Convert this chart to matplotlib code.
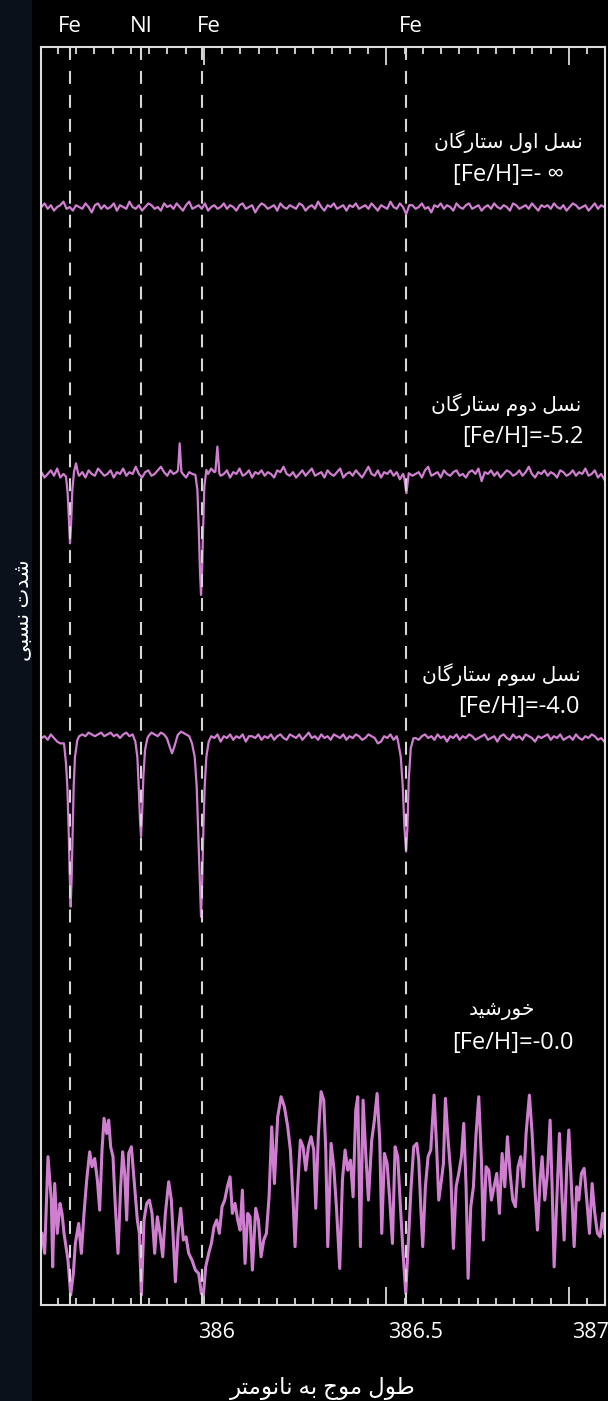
import numpy as np
import matplotlib
matplotlib.use('Agg')
import matplotlib.pyplot as plt
from matplotlib.transforms import blended_transform_factory
from matplotlib.ticker import MultipleLocator

plt.rcParams['font.family'] = ['Open Sans', 'DejaVu Sans']

# ---------------- data ----------------
line_wl = [385.634, 385.828, 385.994, 386.555]
line_names = ['Fe', 'NI', 'Fe', 'Fe']
line_label_dx_px = [0, 0, 7, 4]

major_ticks = [386.0, 386.5, 387.0]
major_labels = ['386', '386.5', '387']
tick_label_dx_px = [13, 29, 22]

# regular sampling grid for the weak/noisy spectra
grid_wl = np.linspace(385.555, 387.097, 180)

# noise on the continuum, in hundredths of the continuum level
first_noise = [0, 2, -1, 1, -2, 0, 1, 3, -1, 0, -2, 1, 0, -1, 2, 0, -3, 1, 2, -1,
               1, -1, 0, 2, -2, 1, 0, -1, 3, 0, -1, 1, -2, 0, 2, 1, -1, 0, -2, 2,
               0, 1, -1, 2, 0, -2, 1, 3, -1, 0, 1, -1, 2, -2, 0, 1, -1, 0, 2, -1,
               1, 0, -2, 1, 2, -1, 0, 1, -3, 0, 2, 1, -1, 0, 1, -2, 2, 0, -1, 1,
               0, -1, 2, 1, -2, 0, 1, -1, 3, 0, -2, 1, 0, 2, -1, 0, 1, -2, 1, 0,
               2, -1, 0, 1, -1, 2, 0, -2, 1, 0, -1, 3, 0, -1, 2, 0, -4, 1, 1, -1,
               0, 2, -1, 0, -3, 1, 0, 2, -1, 1, 0, -2, 2, 0, -1, 1, 2, -1, 0, 1,
               -2, 0, 1, -1, 2, 0, -1, 1, 0, -2, 2, 1, -1, 0, 1, -1, 2, 0, -2, 1,
               0, 1, -1, 2, 0, -1, 1, -2, 0, 2, 1, -1, 0, 1, -2, 0, 2, -1, 1, 0]

second_noise = [1, -2, 0, 2, -1, 3, -2, 0, 1, -3, 2, 0, -1, 1, -2, 2, 0, -1, 3, 1,
                -1, 0, 2, -2, 1, 0, 3, -1, 1, 0, 4, 0, -2, 1, 2, -1, 0, 2, 4, 1,
                -1, 2, 0, 1, 3, 0, -2, 1, 0, 2, -1, 1, -2, 0, 3, 1, 2, -1, 0, 2,
                -2, 1, 0, 3, -1, 0, 2, -2, 1, 0, 2, -1, 1, 0, -2, 2, 1, 4, 0, -1,
                1, -2, 0, 2, -1, 1, 3, -1, 0, 1, -2, 2, 0, -1, 1, 3, -2, 0, 1, -1,
                2, 0, -2, 1, 4, 0, -1, 2, -2, 1, 0, 2, -1, 1, -3, 0, 1, 2, -1, 0,
                1, -2, 2, 4, -1, 0, 1, -2, 2, 0, -1, 1, 2, -1, 0, -2, 1, 2, 0, 3,
                -4, 1, 0, 2, -1, 1, -2, 0, 2, 1, -1, 0, 2, -1, 1, 4, 0, -2, 1, 0,
                2, -1, 1, 0, -2, 2, 1, -1, 0, 2, -1, 1, 0, 3, -1, 0, 2, -2, 0, -3]

third_noise = [0, 1, -1, 2, 0, -2, -3, 0, 1, 0, 1, 0, 1, 2, 1, 3, 2, 1, 2, 3,
               1, 2, 3, 1, 2, 0, 2, 3, 1, 2, 0, 1, 0, 2, 1, 3, 2, 1, 3, 2,
               1, -1, 0, 2, 1, 3, 2, 1, 0, 1, 0, 1, 2, -1, 1, 0, 2, -2, 1, 0,
               2, -1, 1, 0, 2, -2, 1, 1, 0, 2, -1, 1, 0, 2, -1, 1, 2, 0, -1, 2,
               1, 0, 2, -1, 1, 3, 0, 1, -1, 2, 0, 1, -1, 2, 1, 0, 2, -1, 1, 0,
               2, 1, -1, 0, 2, 1, 0, -3, -2, 1, 0, 2, -1, 1, 0, 1, 0, 1, 2, 0,
               -1, 1, 2, 0, 1, -1, 2, 0, 1, -2, 1, 0, 2, -1, 1, 0, 2, 1, -1, 0,
               1, 2, -1, 0, 1, -2, 1, 2, 0, -1, 2, 0, 1, -1, 2, 1, 0, -2, 1, 0,
               1, 2, -1, 1, 0, 2, -1, 0, 1, -1, 2, 0, -1, 1, 0, 2, 1, -1, 0, -2]

# absorption lines / spikes (wavelength nm, relative flux)
second_fe1_wl = [385.6223, 385.6269, 385.6306, 385.6333, 385.6360, 385.6397, 385.6443, 385.6497, 385.6552]
second_fe1_f = [0.985, 0.893, 0.726, 0.615, 0.708, 0.911, 1.013, 1.059, 1.004]
second_spike1_wl = [385.9293, 385.9338, 385.9384]
second_spike1_f = [1.022, 1.170, 1.013]
second_fe2_wl = [385.9768, 385.9823, 385.9859, 385.9896, 385.9923, 385.9950, 385.9978, 386.0014, 386.0069]
second_fe2_f = [0.995, 0.911, 0.708, 0.448, 0.328, 0.448, 0.689, 0.930, 1.022]
second_spike2_wl = [386.0316, 386.0371, 386.0425]
second_spike2_f = [1.013, 1.152, 1.004]
second_fe3_wl = [386.5486, 386.5550, 386.5614]
second_fe3_f = [0.985, 0.893, 1.004]

third_fe1_wl = [385.6169, 385.6223, 385.6260, 385.6296, 385.6324, 385.6351, 385.6379, 385.6406, 385.6433, 385.6470, 385.6534]
third_fe1_f = [0.970, 0.859, 0.730, 0.489, 0.248, 0.063, 0.230, 0.489, 0.730, 0.896, 0.989]
third_ni_wl = [385.8123, 385.8178, 385.8215, 385.8251, 385.8279, 385.8306, 385.8343, 385.8388, 385.8452]
third_ni_f = [0.980, 0.896, 0.730, 0.544, 0.452, 0.563, 0.785, 0.933, 0.998]
third_weak_wl = [385.8990, 385.9064, 385.9128, 385.9192, 385.9284, 385.9375]
third_weak_f = [0.998, 0.952, 0.915, 0.952, 1.017, 1.035]
third_fe2_wl = [385.9676, 385.9749, 385.9804, 385.9850, 385.9887, 385.9923, 385.9950, 385.9987, 386.0023, 386.0069, 386.0133]
third_fe2_f = [0.970, 0.896, 0.730, 0.452, 0.211, 0.007, 0.174, 0.489, 0.730, 0.896, 0.980]
third_fe3_wl = [386.5322, 386.5395, 386.5450, 386.5495, 386.5541, 386.5578, 386.5614, 386.5669, 386.5742]
third_fe3_f = [0.980, 0.896, 0.730, 0.507, 0.369, 0.507, 0.767, 0.943, 0.998]

sun_wl = [385.5566, 385.5639, 385.5730, 385.5821, 385.5858, 385.5913, 385.5986, 385.6059, 385.6114, 385.6169,
          385.6278, 385.6351, 385.6424, 385.6479, 385.6570, 385.6644, 385.6717, 385.6790, 385.6872, 385.6936,
          385.7009, 385.7082, 385.7146, 385.7210, 385.7265, 385.7338, 385.7393, 385.7447, 385.7511, 385.7575,
          385.7648, 385.7721, 385.7776, 385.7831, 385.7886, 385.7941, 385.8014, 385.8105, 385.8178, 385.8233,
          385.8288, 385.8361, 385.8434, 385.8507, 385.8580, 385.8653, 385.8726, 385.8799, 385.8873, 385.8946,
          385.9037, 385.9110, 385.9165, 385.9220, 385.9293, 385.9366, 385.9439, 385.9512, 385.9585, 385.9676,
          385.9768, 385.9859, 385.9932, 385.9987, 386.0051, 386.0133, 386.0206, 386.0279, 386.0352, 386.0425,
          386.0498, 386.0572, 386.0645,
          386.0718, 386.0782, 386.0855, 386.0928, 386.0992, 386.1056, 386.1129, 386.1202, 386.1266, 386.1330,
          386.1421, 386.1495, 386.1568, 386.1641, 386.1714, 386.1787, 386.1860, 386.1933, 386.2024, 386.2116,
          386.2207, 386.2298, 386.2371, 386.2445, 386.2499, 386.2572, 386.2645, 386.2719, 386.2792, 386.2865,
          386.2938, 386.3011, 386.3066, 386.3139, 386.3212, 386.3285, 386.3340, 386.3395, 386.3486, 386.3559,
          386.3632, 386.3723, 386.3797, 386.3870, 386.3943, 386.4016, 386.4089, 386.4162, 386.4217, 386.4290,
          386.4363, 386.4436, 386.4509, 386.4600, 386.4673, 386.4747, 386.4820, 386.4874, 386.4948, 386.5021,
          386.5094, 386.5167, 386.5240, 386.5313, 386.5386, 386.5459, 386.5532, 386.5605, 386.5678, 386.5751,
          386.5834,
          386.5888, 386.5943, 386.5997, 386.6070, 386.6143, 386.6217, 386.6308, 386.6381, 386.6436, 386.6509,
          386.6564, 386.6619, 386.6692, 386.6765, 386.6838, 386.6911, 386.6984, 386.7057, 386.7121, 386.7185,
          386.7240, 386.7313, 386.7386, 386.7459, 386.7532, 386.7605, 386.7660, 386.7733, 386.7806, 386.7879,
          386.7952, 386.8025, 386.8098, 386.8172, 386.8245, 386.8318, 386.8391, 386.8464, 386.8537, 386.8610,
          386.8683, 386.8756, 386.8829, 386.8920, 386.8994, 386.9067, 386.9140, 386.9213, 386.9268, 386.9341,
          386.9414, 386.9487, 386.9542, 386.9597, 386.9670, 386.9743, 386.9816, 386.9871, 386.9944, 386.9999,
          387.0072, 387.0145, 387.0218, 387.0273, 387.0346, 387.0419, 387.0492, 387.0565, 387.0638, 387.0711,
          387.0784, 387.0857, 387.0930, 387.0985]
sun_f = [0.398, 0.287, 0.824, 0.583, 0.212, 0.675, 0.398, 0.564, 0.509, 0.398,
         0.249, 0.055, 0.175, 0.342, 0.453, 0.287, 0.509, 0.694, 0.851, 0.768,
         0.814, 0.694, 0.527, 0.861, 1.037, 0.953, 1.027, 0.879, 0.824, 0.546,
         0.287, 0.657, 0.851, 0.731, 0.472, 0.842, 0.879, 0.657, 0.472, 0.398,
         0.055, 0.472, 0.564, 0.583, 0.509, 0.287, 0.490, 0.398, 0.268, 0.509,
         0.685, 0.583, 0.361, 0.129, 0.398, 0.537, 0.361, 0.379, 0.287, 0.249,
         0.194, 0.175, 0.064, 0.055, 0.212, 0.287, 0.342, 0.435, 0.472, 0.398,
         0.546, 0.583, 0.657,
         0.712, 0.509, 0.564, 0.472, 0.416, 0.638, 0.231, 0.509, 0.490, 0.194,
         0.537, 0.472, 0.268, 0.361, 0.398, 0.601, 0.990, 0.675, 1.046, 1.157,
         1.101, 0.990, 0.861, 0.583, 0.324, 0.657, 0.916, 0.879, 0.749, 0.879,
         0.935, 0.861, 0.537, 0.953, 1.185, 1.138, 0.861, 0.324, 0.898, 0.768,
         0.546, 0.203, 0.694, 0.861, 0.749, 0.805, 0.601, 1.083, 1.157, 0.324,
         1.138, 0.842, 0.583, 0.916, 1.027, 1.175, 0.916, 0.398, 0.842, 0.787,
         0.583, 0.342, 0.879, 0.824, 0.546, 0.287, 0.064, 0.361, 0.657, 0.879,
         0.898,
         0.805, 0.546, 0.324, 0.657, 0.824, 0.861, 1.166, 0.861, 0.583, 0.694,
         0.787, 1.148, 0.916, 0.731, 0.314, 0.657, 0.731, 0.824, 1.009, 0.657,
         0.148, 0.546, 0.657, 0.953, 1.157, 0.805, 0.361, 0.768, 0.749, 0.583,
         0.657, 0.731, 0.509, 0.842, 0.657, 0.935, 0.731, 0.583, 0.546, 0.768,
         0.824, 0.657, 0.953, 1.166, 0.953, 0.657, 0.416, 0.694, 0.824, 0.583,
         0.731, 1.027, 0.657, 0.212, 0.583, 0.953, 0.583, 0.361, 0.768, 0.972,
         0.657, 0.324, 0.657, 0.583, 0.731, 0.759, 0.583, 0.398, 0.675, 0.509,
         0.398, 0.379, 0.509, 0.398]

# vertical offsets of the stacked spectra
offsets = {'first': 5.10, 'second': 3.617, 'third': 2.15, 'sun': 0.0}

# labels
label_titles = ['نسل اول ستارگان', 'نسل دوم ستارگان', 'نسل سوم ستارگان', 'خورشید']
label_feh = ['[Fe/H]=- ∞', '[Fe/H]=-5.2', '[Fe/H]=-4.0', '[Fe/H]=-0.0']
xlabel_text = 'طول موج به نانومتر'
ylabel_text = 'شدت نسبی'

# ---------------- minimal Persian shaping ----------------
FORMS = {  # isolated, final, initial, medial
    'ا': ('\uFE8D', '\uFE8E', None, None),
    'ب': ('\uFE8F', '\uFE90', '\uFE91', '\uFE92'),
    'ت': ('\uFE95', '\uFE96', '\uFE97', '\uFE98'),
    'ج': ('\uFE9D', '\uFE9E', '\uFE9F', '\uFEA0'),
    'خ': ('\uFEA5', '\uFEA6', '\uFEA7', '\uFEA8'),
    'د': ('\uFEA9', '\uFEAA', None, None),
    'ر': ('\uFEAD', '\uFEAE', None, None),
    'س': ('\uFEB1', '\uFEB2', '\uFEB3', '\uFEB4'),
    'ش': ('\uFEB5', '\uFEB6', '\uFEB7', '\uFEB8'),
    'ط': ('\uFEC1', '\uFEC2', '\uFEC3', '\uFEC4'),
    'ل': ('\uFEDD', '\uFEDE', '\uFEDF', '\uFEE0'),
    'م': ('\uFEE1', '\uFEE2', '\uFEE3', '\uFEE4'),
    'ن': ('\uFEE5', '\uFEE6', '\uFEE7', '\uFEE8'),
    'ه': ('\uFEE9', '\uFEEA', '\uFEEB', '\uFEEC'),
    'و': ('\uFEED', '\uFEEE', None, None),
    'ی': ('\uFBFC', '\uFBFD', '\uFBFE', '\uFBFF'),
    'گ': ('\uFB92', '\uFB93', '\uFB94', '\uFB95'),
}


def shape(text):
    out = []
    n = len(text)
    for i, ch in enumerate(text):
        if ch not in FORMS:
            out.append(ch)
            continue
        prev = text[i - 1] if i > 0 else None
        nxt = text[i + 1] if i < n - 1 else None
        join_prev = prev in FORMS and FORMS[prev][2] is not None
        join_next = nxt in FORMS and FORMS[ch][2] is not None
        iso, fin, ini, med = FORMS[ch]
        if join_prev and join_next:
            out.append(med)
        elif join_prev:
            out.append(fin)
        elif join_next:
            out.append(ini)
        else:
            out.append(iso)
    return ''.join(reversed(out))


def assemble(noise, features):
    wl = np.asarray(grid_wl, dtype=float)
    fl = 1.0 + np.asarray(noise, dtype=float) / 100.0
    keep = np.ones(len(wl), dtype=bool)
    xs, ys = [], []
    for fw, ff in features:
        keep &= ~((wl >= min(fw) - 0.002) & (wl <= max(fw) + 0.002))
        xs.extend(fw)
        ys.extend(ff)
    allx = np.concatenate([wl[keep], np.asarray(xs)])
    ally = np.concatenate([fl[keep], np.asarray(ys)])
    order = np.argsort(allx)
    return allx[order], ally[order]


first_x, first_y = assemble(first_noise, [])
second_x, second_y = assemble(second_noise, [(second_fe1_wl, second_fe1_f),
                                             (second_spike1_wl, second_spike1_f),
                                             (second_fe2_wl, second_fe2_f),
                                             (second_spike2_wl, second_spike2_f),
                                             (second_fe3_wl, second_fe3_f)])
third_x, third_y = assemble(third_noise, [(third_fe1_wl, third_fe1_f),
                                          (third_ni_wl, third_ni_f),
                                          (third_weak_wl, third_weak_f),
                                          (third_fe2_wl, third_fe2_f),
                                          (third_fe3_wl, third_fe3_f)])

# ---------------- figure ----------------
W, H = 608, 1401
fig = plt.figure(figsize=(W / 100, H / 100), dpi=100, facecolor='black')
fig.patches.append(plt.Rectangle((0, 0), 32 / W, 1, transform=fig.transFigure,
                                 facecolor='#0b111b', edgecolor='none', zorder=-10))

ax = fig.add_axes([40.7 / W, 96 / H, 563.9 / W, 1258 / H])
ax.set_facecolor('black')
ax.set_xlim(385.553, 387.098)
ax.set_ylim(0, 6.989)

spec_color = '#d07fd0'
ax.plot(first_x, first_y + offsets['first'], color=spec_color, lw=1.6, zorder=2)
ax.plot(second_x, second_y + offsets['second'], color=spec_color, lw=1.6, zorder=2)
ax.plot(third_x, third_y + offsets['third'], color=spec_color, lw=1.6, zorder=2)
ax.plot(sun_wl, np.asarray(sun_f) + offsets['sun'], color=spec_color, lw=2.2, zorder=2)

trans = blended_transform_factory(ax.transData, ax.transAxes)
for w, name, dx in zip(line_wl, line_names, line_label_dx_px):
    ax.plot([w, w], [1, 0], transform=trans, color='#d6d6d6', lw=1.5,
            linestyle=(0, (6.2, 5.3)), zorder=3)
    ax.annotate(name, xy=(w, 1), xycoords=trans, xytext=(dx * 0.72, 21 * 0.72),
                textcoords='offset points', ha='center', va='center',
                color='white', fontsize=16, annotation_clip=False)

# axes styling
for side in ['left', 'right', 'top', 'bottom']:
    ax.spines[side].set_color('#dcdcdc')
    ax.spines[side].set_linewidth(1.5)
ax.set_yticks([])
ax.set_xticks(major_ticks)
ax.xaxis.set_minor_locator(MultipleLocator(0.05))
ax.tick_params(axis='x', which='both', direction='in', top=True, bottom=True,
               labelbottom=False, color='#dcdcdc', width=1.3)
ax.tick_params(axis='x', which='major', length=13)
ax.tick_params(axis='x', which='minor', length=5)

btrans = blended_transform_factory(ax.transData, ax.transAxes)
for t, lab, dx in zip(major_ticks, major_labels, tick_label_dx_px):
    ax.annotate(lab, xy=(t, 0), xycoords=btrans, xytext=(dx * 0.72, -27 * 0.72),
                textcoords='offset points', ha='center', va='center',
                color='white', fontsize=15.5, annotation_clip=False)

# spectrum labels (axes-fraction positions)
title_pos = [(0.8287, 0.9245), (0.8252, 0.7154), (0.8164, 0.5008), (0.8181, 0.2345)]
feh_pos = [(0.8287, 0.8983), (0.8553, 0.6900), (0.8482, 0.4754), (0.8375, 0.2083)]
for txt, (x, y) in zip(label_titles, title_pos):
    ax.text(x, y, shape(txt), transform=ax.transAxes, ha='center', va='center',
            color='white', fontsize=14.5)
for txt, (x, y) in zip(label_feh, feh_pos):
    ax.text(x, y, txt, transform=ax.transAxes, ha='center', va='center',
            color='white', fontsize=17)

fig.text(323 / W, 1 - 1388 / H, shape(xlabel_text), ha='center', va='center',
         color='white', fontsize=16.5)
fig.text(24 / W, 1 - 610 / H, shape(ylabel_text), ha='center', va='center',
         rotation=90, color='white', fontsize=15)

fig.savefig('out.png', dpi=100, facecolor=fig.get_facecolor())
